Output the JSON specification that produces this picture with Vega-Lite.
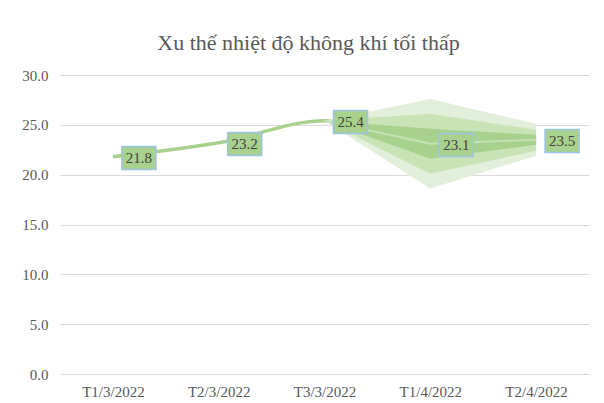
{
  "$schema": "https://vega.github.io/schema/vega-lite/v6.json",
  "width": 529,
  "height": 299,
  "autosize": {"type": "none"},
  "padding": {"left": 60, "top": 75, "right": 15, "bottom": 29},
  "background": "white",
  "title": {
    "text": "Xu thế nhiệt độ không khí tối thấp",
    "font": "Liberation Serif",
    "fontSize": 22,
    "fontWeight": "normal",
    "color": "#595959",
    "anchor": "middle",
    "frame": "group",
    "dx": -16,
    "dy": 24,
    "baseline": "alphabetic",
    "offset": 20
  },
  "config": {
    "view": {"stroke": null},
    "font": "Liberation Serif",
    "axis": {
      "labelFont": "Liberation Serif",
      "labelFontSize": 15,
      "labelColor": "#595959",
      "domain": false,
      "ticks": false,
      "title": null
    }
  },
  "data": {
    "values": [
      {"cat": "T1/3/2022", "value": 21.8},
      {"cat": "T2/3/2022", "value": 23.2},
      {"cat": "T3/3/2022", "value": 25.4, "fc": 25.4, "lo1": 25.4, "hi1": 25.4, "lo2": 25.4, "hi2": 25.4, "lo3": 25.4, "hi3": 25.4},
      {"cat": "T1/4/2022", "value": 23.1, "fc": 23.1, "lo1": 21.6, "hi1": 24.6, "lo2": 20.1, "hi2": 26.1, "lo3": 18.6, "hi3": 27.6},
      {"cat": "T2/4/2022", "value": 23.5, "fc": 23.5, "lo1": 23.0, "hi1": 24.0, "lo2": 22.4, "hi2": 24.5, "lo3": 21.9, "hi3": 25.1}
    ]
  },
  "encoding": {
    "x": {
      "field": "cat",
      "type": "nominal",
      "sort": null,
      "scale": {"paddingInner": 0, "paddingOuter": 0},
      "axis": {"labelAngle": 0, "labelPadding": 10, "grid": false}
    }
  },
  "layer": [
    {
      "mark": {"type": "line", "color": "#a9d18e", "strokeWidth": 3.5, "interpolate": "monotone"},
      "encoding": {
        "y": {
          "field": "value",
          "type": "quantitative",
          "scale": {"domain": [0, 30], "nice": false},
          "axis": {
            "values": [0, 5, 10, 15, 20, 25, 30],
            "format": ".1f",
            "grid": true,
            "gridColor": "#d9d9d9",
            "gridWidth": 1,
            "labelPadding": 12
          }
        }
      }
    },
    {
      "transform": [{"filter": "datum.fc != null"}],
      "mark": {"type": "area", "color": "#e2efda", "opacity": 1},
      "encoding": {
        "y": {"field": "lo3", "type": "quantitative"},
        "y2": {"field": "hi3"}
      }
    },
    {
      "transform": [{"filter": "datum.fc != null"}],
      "mark": {"type": "area", "color": "#c8e3b6", "opacity": 1},
      "encoding": {
        "y": {"field": "lo2", "type": "quantitative"},
        "y2": {"field": "hi2"}
      }
    },
    {
      "transform": [{"filter": "datum.fc != null"}],
      "mark": {"type": "area", "color": "#a9d18e", "opacity": 1},
      "encoding": {
        "y": {"field": "lo1", "type": "quantitative"},
        "y2": {"field": "hi1"}
      }
    },
    {
      "transform": [{"filter": "datum.fc != null"}],
      "mark": {"type": "line", "color": "#c5e0b4", "strokeWidth": 2},
      "encoding": {
        "y": {"field": "fc", "type": "quantitative"}
      }
    },
    {
      "mark": {
        "type": "point",
        "shape": "M0.78,-0.9L3.74,-0.9L3.74,1.1L0.78,1.1Z",
        "size": 529,
        "filled": true,
        "fill": "#a9d18e",
        "stroke": "#9dc3e6",
        "strokeWidth": 1.5,
        "opacity": 1,
        "fillOpacity": 1,
        "strokeOpacity": 1
      },
      "encoding": {
        "y": {"field": "value", "type": "quantitative"}
      }
    },
    {
      "mark": {
        "type": "text",
        "font": "Liberation Serif",
        "fontSize": 15,
        "color": "#404040",
        "dx": 26,
        "dy": 1,
        "align": "center",
        "baseline": "middle"
      },
      "encoding": {
        "y": {"field": "value", "type": "quantitative"},
        "text": {"field": "value", "type": "quantitative", "format": ".1f"}
      }
    }
  ]
}
